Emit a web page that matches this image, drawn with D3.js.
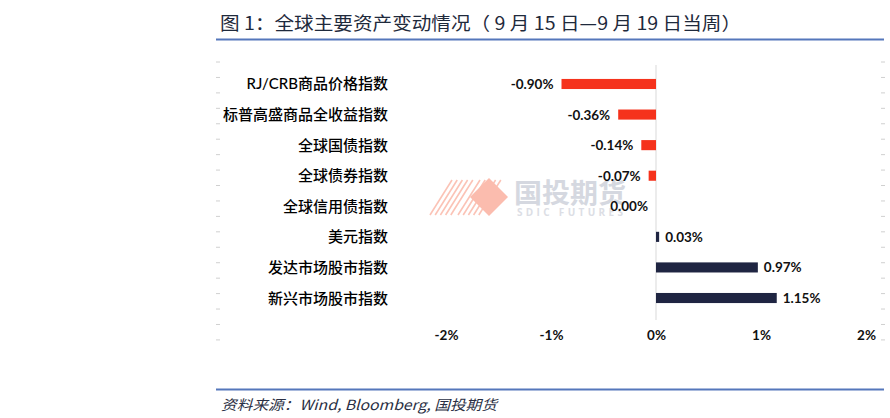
<!DOCTYPE html>
<html><head><meta charset="utf-8">
<script src="https://cdn.jsdelivr.net/npm/d3@7"></script>
<style>body{margin:0;background:#fff}svg{display:block}</style>
</head><body>
<script>
const categories = ["RJ/CRB商品价格指数","标普高盛商品全收益指数","全球国债指数","全球债券指数","全球信用债指数","美元指数","发达市场股市指数","新兴市场股市指数"];
const values = [-0.90,-0.36,-0.14,-0.07,0.00,0.03,0.97,1.15];
const tickValues = [-2,-1,0,1,2];
const tickLabels = ["-2%","-1%","0%","1%","2%"];
const titleText = "图 1：全球主要资产变动情况（ 9 月 15 日—9 月 19 日当周）";
const sourceText = "资料来源：Wind, Bloomberg, 国投期货";

const W = 890, H = 418;
const svg = d3.select("body").append("svg").attr("width", W).attr("height", H);
const cjk = "'Noto Sans CJK SC','Noto Sans',sans-serif";
const lat = "Lato,'Noto Sans CJK SC',sans-serif";

const x = d3.scaleLinear().domain([-2, 2]).range([446, 866]);
const y = d3.scaleBand().domain(categories).range([68.7, 313.3]).paddingInner(0.67).paddingOuter(0.335);

// title
svg.append("text").attr("x", 220).attr("y", 30).attr("textLength", 521).attr("lengthAdjust", "spacingAndGlyphs")
  .style("font-family", cjk).style("font-size", "18px").style("fill", "#1f2a3c").text(titleText);
svg.append("line").attr("x1", 216).attr("x2", 884).attr("y1", 39.5).attr("y2", 39.5).attr("stroke", "#5577bb").attr("stroke-width", 2);
svg.append("line").attr("x1", 216).attr("x2", 884).attr("y1", 389.5).attr("y2", 389.5).attr("stroke", "#5577bb").attr("stroke-width", 2);
svg.append("text").attr("x", 221).attr("y", 410).attr("textLength", 276).attr("lengthAdjust", "spacingAndGlyphs")
  .style("font-family", cjk).style("font-style", "italic").style("font-size", "14px").style("fill", "#2a2f44").text(sourceText);

// side dashes
const dashY = d3.range(19).map(i => 62 + i * 15.44);
svg.selectAll(".dl").data(dashY).enter().append("line").attr("x1", 216).attr("x2", 220).attr("y1", d => d).attr("y2", d => d).attr("stroke", "#d0d0d0");
svg.selectAll(".dr").data(dashY).enter().append("line").attr("x1", 881).attr("x2", 885).attr("y1", d => d).attr("y2", d => d).attr("stroke", "#d0d0d0");

// watermark
const wm = svg.append("g");
const stripes = d3.range(10);
wm.selectAll(".st").data(stripes).enter().append("line")
  .attr("x1", d => 430 + d * 5.2 + (d >= 5 ? 2 : 0)).attr("y1", 215)
  .attr("x2", d => 452 + d * 5.2 + (d >= 5 ? 2 : 0)).attr("y2", 180)
  .attr("stroke", "#fbc3b6").attr("stroke-width", 1.6);
wm.append("path").attr("d", "M489,178 L508,197 L489,216 L470,197 Z").attr("fill", "#fbbcae");
wm.append("text").attr("x", 514).attr("y", 203).attr("textLength", 112).attr("lengthAdjust", "spacingAndGlyphs")
  .style("font-family", cjk).style("font-size", "27px").style("font-weight", "bold").style("fill", "#d5d8e0").text("国投期货");
wm.append("text").attr("x", 517).attr("y", 216).attr("textLength", 106).attr("lengthAdjust", "spacing")
  .style("font-family", "'Open Sans',sans-serif").style("font-size", "10px").style("font-weight", "bold").style("fill", "#dcdee5").text("SDIC FUTURES");

// zero line
svg.append("line").attr("x1", x(0)).attr("x2", x(0)).attr("y1", 65).attr("y2", 320).attr("stroke", "#d9d9d9");

// bars
svg.selectAll(".bar").data(values).enter().append("rect")
  .attr("x", d => x(Math.min(0, d))).attr("width", d => Math.abs(x(d) - x(0)))
  .attr("y", (d, i) => y(categories[i])).attr("height", y.bandwidth())
  .attr("fill", d => d < 0 ? "#f5321c" : "#1f2542");

// value labels
svg.selectAll(".vl").data(values).enter().append("text")
  .attr("x", d => d <= 0 ? x(d) - 8 : x(d) + 6)
  .attr("y", (d, i) => y(categories[i]) + y.bandwidth() / 2 + 5)
  .attr("text-anchor", d => d <= 0 ? "end" : "start")
  .style("font-family", lat).style("font-size", "13.5px").style("font-weight", "bold").style("fill", "#111")
  .text(d => d.toFixed(2) + "%");

// category labels
svg.selectAll(".cl").data(categories).enter().append("text")
  .attr("x", 388).attr("y", d => y(d) + y.bandwidth() / 2 + 5.5)
  .attr("text-anchor", "end")
  .style("font-family", lat).style("font-size", "15px").style("font-weight", "500").style("fill", "#000")
  .text(d => d);

// x axis
const axis = d3.axisBottom(x).tickValues(tickValues).tickFormat((d, i) => tickLabels[i]).tickSize(0);
const ag = svg.append("g").attr("transform", "translate(0,325)").call(axis);
ag.select(".domain").remove();
ag.selectAll("text").attr("dy", "0.9em").style("font-family", lat).style("font-size", "13.5px").style("font-weight", "bold").style("fill", "#111");
</script>
</body></html>
